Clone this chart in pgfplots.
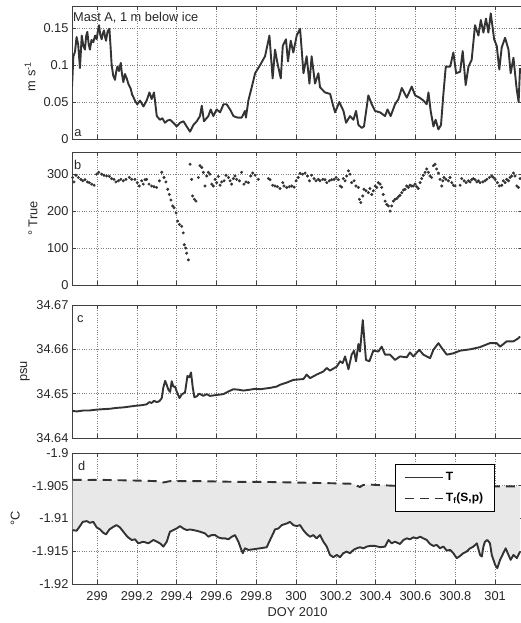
\documentclass[border=0pt]{standalone}
\usepackage{fontspec}
\setmainfont{Liberation Sans}
\usepackage{pgfplots}
\usepackage{pgfplotstable}
\pgfplotsset{compat=1.18}
\usepgfplotslibrary{fillbetween}
\newcommand\fs{\fontsize{12.8}{15}\selectfont}
\definecolor{ln}{gray}{0.2}
\definecolor{fr}{gray}{0.25}
\pgfplotsset{
  panel/.style={
    scale only axis, width=451pt,
    xmin=298.874, xmax=301.140,
    xtick={299,299.2,299.4,299.6,299.8,300,300.2,300.4,300.6,300.8,301},
    xticklabels={},
    grid=major,
    major grid style={dotted, black!50, line width=0.6pt},
    tick align=inside,
    major tick length=4pt,
    every tick/.style={line width=0.7pt, fr},
    axis line style={line width=0.9pt, fr},
    tick label style={font=\fs, black!85},
    label style={font=\fs, black!85},
    /pgf/number format/assume math mode=true,
  },
  dl/.style={line width=1.9pt, ln, line join=round},
}
\pgfplotstableread{
x y
298.877 -1.91177
298.897 -1.91187
298.914 -1.91116
298.928 -1.91051
298.948 -1.91040
298.964 -1.91066
298.981 -1.91051
298.998 -1.91136
299.015 -1.91167
299.031 -1.91217
299.045 -1.91243
299.062 -1.91167
299.082 -1.91126
299.098 -1.91101
299.115 -1.91136
299.132 -1.91202
299.152 -1.91278
299.174 -1.91328
299.191 -1.91318
299.207 -1.91379
299.232 -1.91354
299.258 -1.91379
299.283 -1.91328
299.300 -1.91354
299.316 -1.91379
299.333 -1.91429
299.350 -1.91354
299.366 -1.91202
299.383 -1.91177
299.400 -1.91152
299.417 -1.91116
299.433 -1.91152
299.450 -1.91177
299.467 -1.91167
299.484 -1.91177
299.500 -1.91187
299.517 -1.91202
299.542 -1.91227
299.559 -1.91278
299.576 -1.91253
299.593 -1.91253
299.609 -1.91288
299.626 -1.91303
299.643 -1.91303
299.660 -1.91318
299.677 -1.91278
299.693 -1.91253
299.710 -1.91354
299.722 -1.91455
299.732 -1.91530
299.743 -1.91455
299.760 -1.91480
299.785 -1.91470
299.819 -1.91455
299.852 -1.91439
299.877 -1.91278
299.894 -1.91167
299.911 -1.91152
299.928 -1.91101
299.953 -1.91076
299.969 -1.91051
299.986 -1.91101
300.003 -1.91116
300.020 -1.91101
300.036 -1.91177
300.053 -1.91237
300.070 -1.91278
300.087 -1.91253
300.103 -1.91303
300.120 -1.91253
300.137 -1.91354
300.154 -1.91429
300.170 -1.91556
300.187 -1.91591
300.204 -1.91556
300.221 -1.91591
300.237 -1.91530
300.254 -1.91505
300.271 -1.91530
300.288 -1.91480
300.304 -1.91455
300.321 -1.91439
300.338 -1.91455
300.355 -1.91429
300.371 -1.91419
300.397 -1.91419
300.422 -1.91439
300.447 -1.91429
300.464 -1.91328
300.480 -1.91379
300.497 -1.91354
300.522 -1.91389
300.539 -1.91328
300.556 -1.91303
300.572 -1.91318
300.589 -1.91288
300.606 -1.91303
300.623 -1.91278
300.639 -1.91303
300.656 -1.91328
300.673 -1.91389
300.690 -1.91419
300.706 -1.91404
300.723 -1.91455
300.740 -1.91429
300.757 -1.91490
300.774 -1.91480
300.790 -1.91530
300.807 -1.91606
300.824 -1.91571
300.840 -1.91530
300.857 -1.91505
300.874 -1.91455
300.891 -1.91429
300.908 -1.91379
300.924 -1.91556
300.933 -1.91581
300.941 -1.91429
300.949 -1.91354
300.961 -1.91328
300.974 -1.91379
300.983 -1.91556
301.000 -1.91707
301.011 -1.91758
301.025 -1.91631
301.041 -1.91530
301.053 -1.91455
301.067 -1.91556
301.078 -1.91631
301.092 -1.91556
301.109 -1.91606
301.125 -1.91505
}\Tdata
\pgfplotstableread{
x y
298.877 -1.90410
298.950 -1.90412
299.015 -1.90410
299.100 -1.90415
299.182 -1.90420
299.250 -1.90425
299.299 -1.90430
299.320 -1.90440
299.333 -1.90450
299.366 -1.90430
299.450 -1.90430
299.517 -1.90430
299.600 -1.90435
299.685 -1.90440
299.819 -1.90440
299.900 -1.90445
299.986 -1.90450
300.070 -1.90455
300.154 -1.90460
300.220 -1.90465
300.288 -1.90470
300.305 -1.90500
300.321 -1.90520
300.336 -1.90490
300.351 -1.90480
300.420 -1.90490
300.489 -1.90500
300.600 -1.90500
300.740 -1.90500
300.860 -1.90505
300.991 -1.90510
301.060 -1.90510
301.125 -1.90510
}\Tfdata
\begin{document}
\begin{tikzpicture}
% ---------------- panel a
\begin{axis}[panel, at={(72pt,484pt)}, anchor=south west, height=133pt,
  ymin=0, ymax=0.18, ytick={0,0.05,0.1,0.15}, yticklabels={0,0.05,0.1,0.15},
  ylabel={m s\textsuperscript{-1}},
  ylabel style={at={(axis description cs:-0.093,0.47)}, anchor=center}]
\addplot[dl] coordinates {
(298.874,0.070)(298.881,0.112)(298.889,0.118)(298.897,0.138)(298.905,0.128)(298.914,0.096)(298.923,0.140)
(298.931,0.126)(298.939,0.121)(298.945,0.139)(298.951,0.145)(298.958,0.128)(298.964,0.121)(298.972,0.134)(298.981,0.131)(298.990,0.140)(298.998,0.135)
(299.004,0.146)(299.010,0.154)(299.016,0.141)(299.023,0.135)(299.029,0.143)(299.035,0.147)(299.040,0.138)(299.045,0.133)(299.053,0.146)(299.062,0.149)
(299.068,0.124)(299.073,0.101)(299.081,0.086)(299.090,0.080)(299.096,0.091)(299.102,0.098)(299.110,0.092)(299.119,0.103)(299.125,0.088)(299.132,0.077)
(299.140,0.088)(299.149,0.082)(299.158,0.074)(299.169,0.068)(299.176,0.060)(299.182,0.057)(299.192,0.051)(299.202,0.047)(299.216,0.052)
(299.233,0.044)(299.249,0.052)(299.263,0.063)(299.274,0.054)(299.286,0.063)
(299.300,0.031)(299.316,0.026)(299.328,0.028)(299.341,0.022)(299.354,0.025)(299.367,0.026)(299.383,0.022)
(299.400,0.017)(299.417,0.022)(299.434,0.024)(299.450,0.017)(299.467,0.010)
(299.484,0.019)(299.501,0.024)(299.517,0.031)(299.526,0.045)(299.537,0.024)
(299.559,0.031)(299.571,0.040)(299.584,0.031)(299.601,0.040)(299.618,0.036)
(299.635,0.047)(299.651,0.047)(299.668,0.040)(299.685,0.031)(299.705,0.029)
(299.727,0.029)(299.743,0.038)(299.748,0.029)(299.760,0.052)(299.777,0.070)
(299.794,0.089)(299.819,0.100)(299.844,0.112)(299.866,0.140)(299.882,0.082)
(299.894,0.121)(299.906,0.103)(299.923,0.082)(299.933,0.126)(299.949,0.135)
(299.959,0.105)(299.973,0.133)(299.986,0.117)(300.003,0.140)(300.020,0.149)
(300.037,0.089)(300.053,0.112)(300.067,0.075)(300.078,0.112)(300.095,0.075)
(300.112,0.089)(300.120,0.070)(300.145,0.063)(300.171,0.061)(300.184,0.047)
(300.196,0.036)(300.217,0.050)(300.238,0.038)(300.251,0.022)(300.271,0.031)
(300.288,0.026)(300.301,0.038)(300.313,0.019)(300.330,0.015)(300.341,0.017)
(300.363,0.059)(300.380,0.047)(300.397,0.038)(300.422,0.036)(300.447,0.031)
(300.459,0.040)(300.475,0.031)(300.497,0.047)(300.514,0.054)(300.531,0.069)
(300.556,0.056)(300.581,0.071)(300.598,0.059)(300.620,0.056)(300.640,0.052)
(300.656,0.047)(300.665,0.063)(300.676,0.038)(300.690,0.017)(300.701,0.026)
(300.715,0.013)(300.728,0.019)(300.740,0.061)(300.752,0.098)(300.774,0.098)
(300.790,0.117)(300.804,0.089)(300.824,0.091)(300.837,0.119)(300.852,0.073)
(300.866,0.098)(300.882,0.107)(300.899,0.154)(300.916,0.140)(300.928,0.161)
(300.941,0.144)(300.954,0.163)(300.966,0.144)(300.978,0.170)(300.995,0.135)
(301.008,0.126)(301.021,0.094)(301.033,0.124)(301.050,0.137)(301.067,0.121)
(301.078,0.089)(301.092,0.110)(301.108,0.068)(301.118,0.050)(301.125,0.096)
};
\node[font=\fs, anchor=base west, inner sep=0pt, black!85] at (rel axis cs:0.002,0.887) {Mast A, 1 m below ice};
\node[font=\fs, anchor=base west, inner sep=0pt, black!85] at (rel axis cs:0.005,0.017) {a};
\end{axis}
% ---------------- panel b
\begin{axis}[panel, at={(72pt,338pt)}, anchor=south west, height=133pt,
  ymin=0, ymax=360, ytick={0,100,200,300}, yticklabels={0,100,200,300},
  ylabel={° True},
  ylabel style={at={(axis description cs:-0.0865,0.5)}, anchor=center}]
\addplot[only marks, mark=*, mark size=1.3pt, ln] coordinates {
(298.877,291)(298.884,279)(298.894,297)(298.906,291)(298.918,286)(298.928,282)
(298.939,285)(298.951,279)(298.961,277)(298.973,273)(298.985,270)(298.998,300)
(299.008,305)(299.023,300)(299.035,297)(299.048,295)(299.062,294)(299.073,288)
(299.085,286)(299.095,279)(299.107,282)(299.119,286)(299.132,282)(299.145,286)
(299.162,291)(299.174,286)(299.190,286)(299.202,277)(299.212,268)(299.224,282)
(299.232,273)(299.241,285)(299.249,286)(299.261,273)(299.274,268)(299.286,266)
(299.299,264)(299.313,282)(299.325,305)(299.336,291)(299.346,279)(299.355,259)
(299.363,245)(299.371,230)(299.380,214)(299.387,209)(299.397,195)(299.405,173)
(299.414,164)(299.425,159)(299.433,141)(299.438,109)(299.445,100)(299.450,86)
(299.459,68)
(299.467,327)(299.475,286)(299.480,241)(299.489,232)(299.497,227)(299.509,291)
(299.517,323)(299.526,318)(299.534,305)(299.542,268)(299.551,295)(299.559,305)
(299.567,300)(299.576,273)(299.584,268)(299.593,286)(299.601,277)(299.609,294)
(299.618,270)(299.626,279)(299.638,282)(299.648,297)(299.660,291)(299.668,282)
(299.676,273)(299.685,288)(299.693,295)(299.701,286)(299.715,282)(299.726,305)
(299.738,273)(299.748,279)(299.760,277)(299.772,295)(299.782,303)(299.794,297)
(299.810,286)
(299.861,288)(299.869,285)(299.882,270)(299.894,268)(299.906,266)(299.919,261)
(299.933,277)(299.939,268)(299.953,264)(299.966,266)(299.978,268)(299.990,265)
(300.000,282)(300.011,291)(300.020,302)(300.033,300)(300.045,303)(300.057,295)
(300.067,282)(300.078,297)(300.090,288)(300.100,282)(300.112,286)(300.120,282)
(300.134,286)(300.145,285)(300.154,277)(300.167,282)(300.179,285)(300.191,286)
(300.201,291)(300.212,285)(300.221,268)(300.229,265)(300.237,288)(300.246,282)
(300.254,295)(300.263,309)(300.271,300)(300.279,277)(300.291,282)(300.301,268)
(300.313,264)(300.318,232)(300.325,223)(300.335,241)(300.341,259)(300.351,255)
(300.363,250)(300.371,261)(300.380,245)(300.388,255)(300.397,268)(300.405,264)
(300.413,277)(300.422,273)(300.430,264)(300.438,245)(300.447,227)(300.455,218)
(300.464,214)(300.472,200)(300.480,214)(300.489,227)(300.497,232)(300.506,234)
(300.514,239)(300.522,243)(300.531,250)(300.539,257)(300.547,259)(300.556,268)
(300.564,264)(300.572,270)(300.581,268)(300.589,268)(300.598,273)(300.606,266)
(300.614,261)(300.623,277)(300.631,288)(300.639,297)(300.648,305)(300.656,314)
(300.665,305)(300.673,295)(300.681,291)(300.690,323)(300.698,327)(300.706,314)
(300.715,303)(300.723,286)(300.732,268)(300.737,282)(300.743,291)(300.753,286)
(300.765,282)(300.773,291)(300.782,277)(300.790,270)(300.799,268)(300.824,270)
(300.832,288)(300.844,282)(300.854,277)(300.866,282)(300.874,279)(300.882,285)
(300.891,288)(300.899,285)(300.908,279)(300.916,282)(300.924,277)(300.938,279)
(300.949,282)(300.958,286)(300.971,291)(300.983,295)(300.991,291)(301.000,286)
(301.011,277)(301.021,268)(301.033,270)(301.041,282)(301.050,277)(301.058,286)
(301.067,282)(301.075,291)(301.083,295)(301.092,303)(301.100,295)(301.109,268)
(301.117,264)(301.125,288)
};
\node[font=\fs, anchor=base west, inner sep=0pt, black!85] at (rel axis cs:0.004,0.865) {b};
\end{axis}
% ---------------- panel c
\begin{axis}[panel, at={(72pt,185pt)}, anchor=south west, height=133pt,
  ymin=34.64, ymax=34.67, ytick={34.64,34.65,34.66,34.67},
  yticklabels={34.64,34.65,34.66,34.67},
  ylabel={psu},
  ylabel style={at={(axis description cs:-0.104,0.5)}, anchor=center}]
\addplot[dl] coordinates {
(298.874,34.6461)(298.900,34.6460)(298.931,34.6462)(298.960,34.6462)(298.998,34.6464)
(299.030,34.6465)(299.065,34.6466)(299.100,34.6468)(299.132,34.6469)(299.165,34.6471)
(299.199,34.6473)(299.225,34.6474)(299.249,34.6476)(299.263,34.6481)(299.274,34.6479)
(299.286,34.6484)(299.300,34.6481)(299.313,34.6483)(299.325,34.6490)(299.333,34.6514)
(299.342,34.6529)(299.350,34.6520)(299.358,34.6509)(299.367,34.6504)(299.375,34.6528)
(299.383,34.6516)(299.392,34.6516)(299.400,34.6505)(299.414,34.6490)(299.425,34.6498)
(299.442,34.6503)(299.454,34.6540)(299.464,34.6537)(299.472,34.6548)(299.481,34.6513)
(299.489,34.6492)(299.501,34.6494)(299.514,34.6500)(299.534,34.6495)(299.551,34.6499)
(299.567,34.6495)(299.601,34.6497)(299.635,34.6499)(299.660,34.6505)(299.685,34.6510)
(299.710,34.6509)(299.735,34.6507)(299.769,34.6509)(299.794,34.6511)(299.819,34.6510)
(299.869,34.6513)(299.902,34.6516)(299.919,34.6520)(299.953,34.6525)(299.986,34.6531)
(300.037,34.6533)(300.053,34.6543)(300.070,34.6535)(300.103,34.6543)(300.137,34.6550)
(300.154,34.6558)(300.170,34.6552)(300.204,34.6561)(300.221,34.6573)(300.234,34.6569)
(300.246,34.6584)(300.263,34.6555)(300.279,34.6588)(300.291,34.6597)(300.301,34.6573)
(300.313,34.6612)(300.321,34.6595)(300.335,34.6666)(300.343,34.6621)(300.351,34.6576)
(300.368,34.6573)(300.388,34.6597)(300.413,34.6595)(300.430,34.6606)(300.447,34.6588)
(300.472,34.6588)(300.497,34.6576)(300.522,34.6584)(300.556,34.6582)(300.572,34.6593)
(300.589,34.6584)(300.619,34.6599)(300.639,34.6588)(300.673,34.6580)(300.690,34.6599)
(300.715,34.6614)(300.732,34.6603)(300.757,34.6588)(300.790,34.6591)(300.824,34.6597)
(300.874,34.6600)(300.924,34.6605)(300.974,34.6614)(301.008,34.6614)(301.025,34.6606)
(301.058,34.6618)(301.092,34.6618)(301.117,34.6625)(301.125,34.6629)
};
\node[font=\fs, anchor=base west, inner sep=0pt, black!85] at (rel axis cs:0.011,0.865) {c};
\end{axis}
% ---------------- panel d
\begin{axis}[panel, at={(72pt,39pt)}, anchor=south west, height=131pt,
  ymin=-1.92, ymax=-1.9, ytick={-1.92,-1.915,-1.91,-1.905,-1.9},
  yticklabels={-1.92,-1.915,-1.91,-1.905,-1.9},
  xticklabels={299,299.2,299.4,299.6,299.8,300,300.2,300.4,300.6,300.8,301},
  xticklabel style={yshift=-4pt},
  xlabel={DOY 2010},
  ylabel={°C},
  ylabel style={at={(axis description cs:-0.126,0.5)}, anchor=center},
  every axis legend/.append style={at={(0.938,0.916)}, anchor=north east,
    draw=black, line width=0.8pt, fill=white,
    font=\bfseries\fontsize{12}{14}\selectfont,
    inner xsep=9pt, inner ysep=5pt, row sep=5pt,
    nodes={inner sep=2.5pt, text depth=0.25em}},
  legend cell align=left,
  legend image code/.code={\draw[#1, line width=1.3pt] (0pt,0pt) -- (38pt,0pt);}]
\addplot[draw=none, name path=Tp, forget plot] table {\Tdata};
\addplot[draw=none, name path=Tfp, forget plot] table {\Tfdata};
\addplot[black!9, forget plot] fill between[of=Tp and Tfp];
\addplot[dl] table {\Tdata};
\addlegendentry{T}
\addplot[dl, dash pattern=on 9pt off 6pt, line cap=butt] table {\Tfdata};
\addlegendentry{T\textsubscript{f}(S,p)\hspace{11pt}}
\node[font=\fs, anchor=base west, inner sep=0pt, black!85] at (rel axis cs:0.013,0.870) {d};
\end{axis}
\pgfresetboundingbox
\useasboundingbox (0pt,0pt) rectangle (520pt,623pt);
\end{tikzpicture}
\end{document}
